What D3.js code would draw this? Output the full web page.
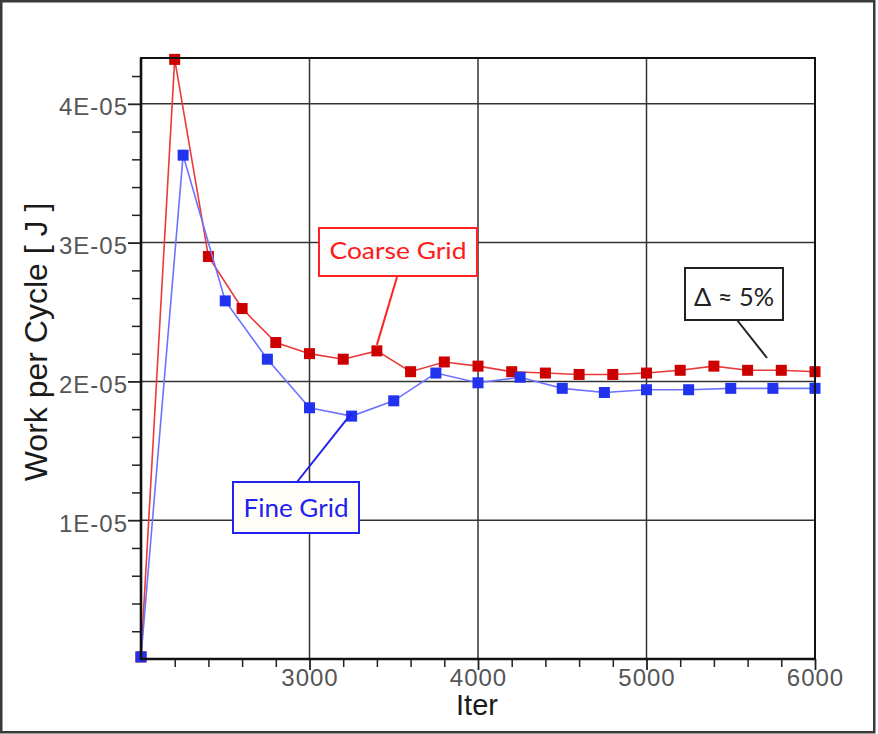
<!DOCTYPE html>
<html>
<head>
<meta charset="utf-8">
<script src="https://cdn.jsdelivr.net/npm/d3@7"></script>
<style>
  html, body { margin: 0; padding: 0; background: #fff; }
  svg { display: block; }
</style>
</head>
<body>
<div id="chart"></div>
<script>
// Work per cycle convergence history, coarse vs fine grid
const coarseIter = [2000, 2200, 2400, 2600, 2800, 3000, 3200, 3400, 3600, 3800, 4000,
                    4200, 4400, 4600, 4800, 5000, 5200, 5400, 5600, 5800, 6000];
const coarseWork = [0.015e-5, 4.32e-5, 2.90e-5, 2.525e-5, 2.28e-5, 2.20e-5, 2.16e-5, 2.22e-5, 2.07e-5, 2.14e-5, 2.11e-5,
                    2.07e-5, 2.06e-5, 2.05e-5, 2.05e-5, 2.06e-5, 2.08e-5, 2.11e-5, 2.08e-5, 2.08e-5, 2.07e-5];

const fineIter = [2000, 2250, 2500, 2750, 3000, 3250, 3500, 3750, 4000,
                  4250, 4500, 4750, 5000, 5250, 5500, 5750, 6000];
const fineWork = [0.015e-5, 3.63e-5, 2.58e-5, 2.16e-5, 1.81e-5, 1.75e-5, 1.86e-5, 2.06e-5, 1.99e-5,
                  2.03e-5, 1.95e-5, 1.92e-5, 1.94e-5, 1.94e-5, 1.95e-5, 1.95e-5, 1.95e-5];

const xTickValues = [3000, 4000, 5000, 6000];
const xTickLabels = ["3000", "4000", "5000", "6000"];
const yTickValues = [1e-5, 2e-5, 3e-5, 4e-5];
const yTickLabels = ["1E-05", "2E-05", "3E-05", "4E-05"];

const xLabel = "Iter";
const yLabel = "Work per Cycle [ J ]";

const W = 878, H = 734;
const margin = { left: 141, right: 63, top: 58, bottom: 75 };

const svg = d3.select("#chart").append("svg")
  .attr("width", W).attr("height", H);

// outer frame
svg.append("rect")
  .attr("x", 1.25).attr("y", 1.25)
  .attr("width", 873).attr("height", 731)
  .attr("fill", "#fff").attr("stroke", "#3a3a3a").attr("stroke-width", 2.5);

const x = d3.scaleLinear().domain([2000, 6000]).range([margin.left, W - margin.right]);
const y = d3.scaleLinear().domain([0, 4.33e-5]).range([H - margin.bottom, margin.top]);

const x0 = x.range()[0], x1 = x.range()[1];
const y0 = y.range()[0], y1 = y.range()[1];

// grid
const grid = svg.append("g").attr("stroke", "#333").attr("stroke-width", 1.5);
grid.selectAll("line.vx").data(xTickValues.filter(d => d < 6000)).join("line")
  .attr("x1", d => x(d)).attr("x2", d => x(d)).attr("y1", y1).attr("y2", y0);
grid.selectAll("line.hy").data(yTickValues).join("line")
  .attr("x1", x0).attr("x2", x1).attr("y1", d => y(d)).attr("y2", d => y(d));

// minor ticks
const xMinor = d3.range(2200, 6000, 200).filter(d => d % 1000 !== 0);
const yMinor = d3.range(2e-6, 4.3e-5, 2e-6).filter(d => Math.abs(d / 1e-5 - Math.round(d / 1e-5)) > 1e-6);

svg.append("g").attr("transform", `translate(0,${y0})`)
  .call(d3.axisBottom(x).tickValues(xMinor).tickSize(8).tickFormat(""))
  .call(g => g.select(".domain").remove())
  .call(g => g.selectAll("line").attr("stroke", "#222").attr("stroke-width", 1.5));
svg.append("g").attr("transform", `translate(${x0},0)`)
  .call(d3.axisLeft(y).tickValues(yMinor).tickSize(9).tickFormat(""))
  .call(g => g.select(".domain").remove())
  .call(g => g.selectAll("line").attr("stroke", "#222").attr("stroke-width", 1.5));

// major axes
const xAxis = svg.append("g").attr("transform", `translate(0,${y0})`)
  .call(d3.axisBottom(x).tickValues(xTickValues).tickSize(11).tickSizeOuter(0)
    .tickFormat((d, i) => xTickLabels[i]));
xAxis.selectAll("line").attr("stroke", "#222").attr("stroke-width", 1.8);
xAxis.selectAll("text")
  .attr("y", 27).attr("dy", null)
  .attr("fill", "#555").attr("font-family", "'Liberation Sans', Arial, sans-serif")
  .attr("font-size", 24).attr("letter-spacing", 1);
xAxis.select(".domain").remove();

const yAxis = svg.append("g").attr("transform", `translate(${x0},0)`)
  .call(d3.axisLeft(y).tickValues(yTickValues).tickSize(13).tickSizeOuter(0)
    .tickFormat((d, i) => yTickLabels[i]));
yAxis.selectAll("line").attr("stroke", "#222").attr("stroke-width", 1.8);
yAxis.selectAll("text")
  .attr("x", -13).attr("y", 11).attr("dy", null)
  .attr("fill", "#555").attr("font-family", "'Liberation Sans', Arial, sans-serif")
  .attr("font-size", 24).attr("letter-spacing", 1);
yAxis.select(".domain").remove();

// series
const line = d3.line().x(d => x(d[0])).y(d => y(d[1]));
const coarse = coarseIter.map((d, i) => [d, coarseWork[i]]);
const fine = fineIter.map((d, i) => [d, fineWork[i]]);
const MS = 11;

svg.append("path").datum(coarse).attr("d", line)
  .attr("fill", "none").attr("stroke", "#ec3a3a").attr("stroke-width", 1.6);
svg.append("g").selectAll("rect").data(coarse).join("rect")
  .attr("x", d => x(d[0]) - MS / 2).attr("y", d => y(d[1]) - MS / 2)
  .attr("width", MS).attr("height", MS).attr("fill", "#cc0000");

svg.append("path").datum(fine).attr("d", line)
  .attr("fill", "none").attr("stroke", "#6f72ff").attr("stroke-width", 1.6);
svg.append("g").selectAll("rect").data(fine).join("rect")
  .attr("x", d => x(d[0]) - MS / 2).attr("y", d => y(d[1]) - MS / 2)
  .attr("width", MS).attr("height", MS).attr("fill", "#2233f0");

// plot border
svg.append("rect")
  .attr("x", x0).attr("y", y1).attr("width", x1 - x0).attr("height", y0 - y1)
  .attr("fill", "none").attr("stroke", "#111").attr("stroke-width", 2);
svg.append("path")
  .attr("d", `M${x0},${y1}V${y0}H${x1}`)
  .attr("fill", "none").attr("stroke", "#111").attr("stroke-width", 2.6);

// axis titles
svg.append("text")
  .attr("transform", `translate(47,342) rotate(-90)`)
  .attr("text-anchor", "middle")
  .attr("font-family", "'Liberation Sans', Arial, sans-serif")
  .attr("font-size", 32).attr("fill", "#1a1a1a")
  .text(yLabel);
svg.append("text")
  .attr("x", 477).attr("y", 715)
  .attr("text-anchor", "middle")
  .attr("font-family", "'Liberation Sans', Arial, sans-serif")
  .attr("font-size", 29).attr("fill", "#1a1a1a")
  .text(xLabel);

// callouts
function callout(cfg) {
  const g = svg.append("g");
  g.append("line")
    .attr("x1", cfg.lx1).attr("y1", cfg.ly1).attr("x2", cfg.lx2).attr("y2", cfg.ly2)
    .attr("stroke", cfg.color).attr("stroke-width", 2);
  g.append("rect")
    .attr("x", cfg.bx).attr("y", cfg.by).attr("width", cfg.bw).attr("height", cfg.bh)
    .attr("fill", cfg.fill).attr("stroke", cfg.color).attr("stroke-width", 2);
  g.append("text")
    .attr("x", cfg.bx + cfg.bw / 2).attr("y", cfg.ty)
    .attr("text-anchor", "middle")
    .attr("font-family", "Lato, 'Open Sans', sans-serif")
    .attr("font-size", cfg.fs).attr("fill", cfg.textColor)
    .attr("textLength", cfg.tl).attr("lengthAdjust", "spacingAndGlyphs")
    .text(cfg.text);
}

// coarse-grid label points at the 3400 marker
callout({ text: "Coarse Grid", color: "#ff2222", textColor: "#ff1a1a", fill: "#fdfdfd",
  bx: 319, by: 228, bw: 158, bh: 48, ty: 259, fs: 24, tl: 137,
  lx1: 397, ly1: 277, lx2: x(3400), ly2: y(2.22e-5) - 6 });

// fine-grid label points at the 3250 marker
callout({ text: "Fine Grid", color: "#2222ee", textColor: "#2222ee", fill: "#fffdf8",
  bx: 233, by: 482, bw: 126, bh: 51, ty: 517, fs: 25, tl: 105,
  lx1: 297, ly1: 482, lx2: x(3250), ly2: y(1.75e-5) - 3 });

// difference between converged values
callout({ text: "Δ ≈ 5%", color: "#222", textColor: "#222", fill: "#fff",
  bx: 685, by: 268, bw: 98, bh: 52, ty: 306, fs: 25, tl: 80,
  lx1: 737, ly1: 320, lx2: 767, ly2: 358 });
</script>
</body>
</html>
